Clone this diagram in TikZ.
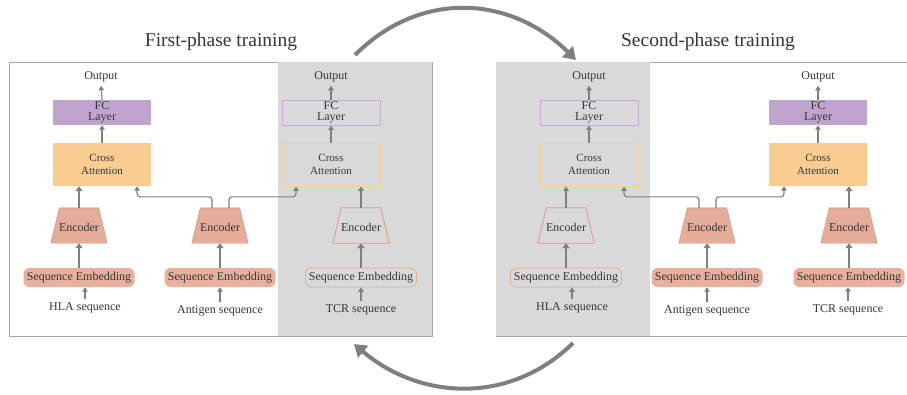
\documentclass[tikz,border=0pt]{standalone}
\usepackage{fontspec}
\setmainfont{Liberation Serif}
\usetikzlibrary{arrows.meta}
\definecolor{txt}{HTML}{363636}
\definecolor{ln}{HTML}{7F7F7F}
\definecolor{framec}{HTML}{A6A6A6}
\definecolor{panelgrey}{HTML}{D9D9D9}
\definecolor{fcfill}{HTML}{BFA5CE}
\definecolor{cafill}{HTML}{F9CD91}
\definecolor{encfill}{HTML}{E4AC99}
\definecolor{embfill}{HTML}{E7B09F}
\definecolor{encline}{HTML}{E39880}
\definecolor{fcline}{HTML}{C5ABD5}
\definecolor{caline}{HTML}{FACF95}
\definecolor{embline}{HTML}{E6A995}
\newcommand\encnode[3]{%
  \node[encbox] (#1) at (#2) {};
  \path[#3] (#1.south west) -- (#1.south east) -- ([xshift=-8.5pt]#1.north east)
     -- ([xshift=8.5pt]#1.north west) -- cycle;
  \node[anchor=center] at ([yshift=-1.5pt]#1.center) {Encoder};}
\begin{document}
\begin{tikzpicture}[x=1pt,y=-1pt,
 every node/.style={text=txt, font=\fontsize{12}{12}\selectfont},
 fcbox/.style={rectangle, minimum width=98pt, minimum height=25pt, inner sep=0pt, align=center, font=\fontsize{12}{10.5}\selectfont},
 cabox/.style={rectangle, minimum width=98pt, minimum height=43pt, inner sep=0pt, align=center, font=\fontsize{11}{13}\selectfont},
 encbox/.style={rectangle, minimum width=56pt, minimum height=35pt, inner sep=0pt},
 embbox/.style={rectangle, rounded corners=6pt, minimum width=111pt, minimum height=19pt, inner sep=0pt},
 solidfc/.style={fcbox, fill=fcfill},
 ghostfc/.style={fcbox, draw=fcline, line width=0.8pt},
 solidca/.style={cabox, fill=cafill},
 ghostca/.style={cabox, draw=caline, line width=0.8pt},
 solidenc/.style={fill=encfill, draw=encfill!85!black, line width=0.4pt},
 ghostenc/.style={draw=encline, line width=0.8pt},
 solidemb/.style={embbox, fill=embfill},
 ghostemb/.style={embbox, draw=embline, line width=0.8pt},
 title/.style={font=\fontsize{19.5}{20}\selectfont},
 thinarr/.style={draw=ln, line width=1.1pt, -{Triangle[width=5.5pt,length=4.5pt]}},
 thickarr/.style={draw=ln, line width=2.2pt, -{Triangle[width=7pt,length=5pt]}},
 bigarrow/.style={draw=ln, line width=4pt, -{Triangle[width=15pt,length=12pt]}},
]
\fill[white] (0,0) rectangle (907,394);
\useasboundingbox (0,0) rectangle (907,394);

% panels
\draw[framec, line width=0.9pt] (9,62) rectangle (432,336);
\fill[panelgrey] (278,62) rectangle (432,336);
\draw[framec, line width=0.9pt] (907,62) -- (496,62) -- (496,336) -- (907,336);
\fill[panelgrey] (496,62) rectangle (650,336);

% titles
\node[title] (t1) at (221,42) {First-phase training};
\node[title] (t2) at (708,42) {Second-phase training};

% ---------- left panel ----------
\node (outH) at (101,77) {Output};
\node[solidfc] (fcH) at (102,112.5) {FC\\Layer};
\node[solidca] (caH) at (102,164.5) {Cross\\Attention};
\encnode{encH}{79,225.5}{solidenc}
\node[solidemb] (embH) at (79,277.5) {Sequence Embedding};
\node (txH) at (85,308) {HLA sequence};

\encnode{encA}{220,225.5}{solidenc}
\node[solidemb] (embA) at (220,277.5) {Sequence Embedding};
\node (txA) at (220,311) {Antigen sequence};

\node (outT) at (331,77) {Output};
\node[ghostfc] (fcT) at (331,112.5) {FC\\Layer};
\node[ghostca] (caT) at (331,164.5) {Cross\\Attention};
\encnode{encT}{361,225.5}{ghostenc}
\node[ghostemb] (embT) at (361,277.5) {Sequence Embedding};
\node (txT) at (361,310) {TCR sequence};

\draw[thinarr] (fcH.north) -- (outH.south);
\draw[thinarr] (caH.north) -- (fcH.south);
\draw[thickarr] (encH.north) -- (encH.north |- caH.south);
\draw[thickarr] (embH.north) -- (encH.south);
\draw[thinarr] (txH.north) -- (txH.north |- embH.south);

\draw[thickarr] (embA.north) -- (encA.south);
\draw[thinarr] (txA.north) -- (txA.north |- embA.south);
\draw[thinarr, rounded corners=3pt] ([xshift=-8pt]encA.north) -- ++(0,-11) -| ([xshift=35pt]caH.south);
\draw[thinarr, rounded corners=3pt] ([xshift=9pt]encA.north) -- ++(0,-11) -| ([xshift=-35pt]caT.south);

\draw[thinarr] (fcT.north) -- (outT.south);
\draw[thinarr] (caT.north) -- (fcT.south);
\draw[thinarr] (encT.north) -- (encT.north |- caT.south);
\draw[thickarr] (embT.north) -- (encT.south);
\draw[thinarr] (txT.north) -- (txT.north |- embT.south);

% ---------- right panel ----------
\node (outH2) at (589,77) {Output};
\node[ghostfc] (fcH2) at (589,112.5) {FC\\Layer};
\node[ghostca] (caH2) at (589,164.5) {Cross\\Attention};
\encnode{encH2}{566,225.5}{ghostenc}
\node[ghostemb] (embH2) at (566,277.5) {Sequence Embedding};
\node (txH2) at (572,308) {HLA sequence};

\encnode{encA2}{707,225.5}{solidenc}
\node[solidemb] (embA2) at (707,277.5) {Sequence Embedding};
\node (txA2) at (707,311) {Antigen sequence};

\node (outT2) at (818,77) {Output};
\node[solidfc] (fcT2) at (818,112.5) {FC\\Layer};
\node[solidca] (caT2) at (818,164.5) {Cross\\Attention};
\encnode{encT2}{849,225.5}{solidenc}
\node[solidemb] (embT2) at (849,277.5) {Sequence Embedding};
\node (txT2) at (848,310) {TCR sequence};

\draw[thinarr] (fcH2.north) -- (outH2.south);
\draw[thinarr] (caH2.north) -- (fcH2.south);
\draw[thinarr] (encH2.north) -- (encH2.north |- caH2.south);
\draw[thickarr] (embH2.north) -- (encH2.south);
\draw[thinarr] (txH2.north) -- (txH2.north |- embH2.south);

\draw[thickarr] (embA2.north) -- (encA2.south);
\draw[thinarr] (txA2.north) -- (txA2.north |- embA2.south);
\draw[thinarr, rounded corners=3pt] ([xshift=-8pt]encA2.north) -- ++(0,-11) -| ([xshift=35pt]caH2.south);
\draw[thinarr, rounded corners=3pt] ([xshift=9pt]encA2.north) -- ++(0,-11) -| ([xshift=-34pt]caT2.south);

\draw[thinarr] (fcT2.north) -- (outT2.south);
\draw[thinarr] (caT2.north) -- (fcT2.south);
\draw[thickarr] (encT2.north) -- (encT2.north |- caT2.south);
\draw[thickarr] (embT2.north) -- (encT2.south);
\draw[thinarr] (txT2.north) -- (txT2.north |- embT2.south);

% big curved arrows
\coordinate (a1) at (355,55);
\coordinate (a2) at (576,60);
\draw[bigarrow] (a1) .. controls (420,-10) and (510,-5) .. (a2);
\coordinate (b1) at (573,343);
\coordinate (b2) at (354,344);
\draw[bigarrow] (b1) .. controls (510,405) and (420,400) .. (b2);
\end{tikzpicture}
\end{document}
